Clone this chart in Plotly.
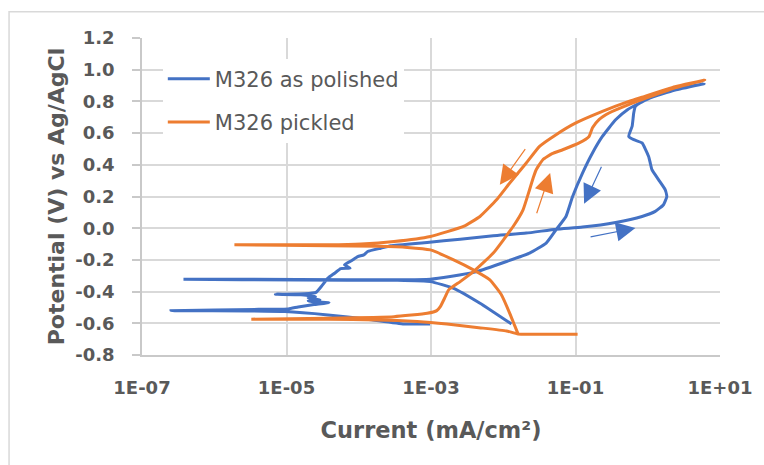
import plotly.graph_objects as go

# Cyclic polarization curves, M326 alloy
# log10 of current density (mA/cm^2) and potential (V vs Ag/AgCl), in scan order
polished_log_i = [
    -3.012, -3.373, -3.877, -4.426, -5.021, -5.524, -6.599, -5.387, -4.975, -4.838,
    -4.620, -4.412, -4.600, -4.700, -4.536, -4.700, -4.600, -4.800, -5.154, -4.750,
    -4.591, -4.518, -4.426, -4.334, -4.250, -4.120, -4.197, -4.100, -4.014, -3.930,
    -3.877, -3.695, -3.557, -3.053, -2.596, -2.138, -1.681, -1.269, -0.903, -0.445,
    -0.079, 0.104, 0.218, 0.264, 0.241, 0.149, 0.058, 0.035, 0.012, -0.079,
    -0.194, -0.263, -0.216, -0.194, -0.171, 0.012, 0.378, 0.780,
    0.378, 0.012, -0.281, -0.445, -0.628, -0.765, -0.903, -1.040, -1.132, -1.269,
    -1.406, -1.636, -1.955, -2.367, -2.734, -3.008, -3.465, -4.838, -6.426, -4.838,
    -3.465, -3.008, -2.687, -2.322, -1.887,
]
polished_v = [
    -0.604, -0.604, -0.574, -0.547, -0.526, -0.522, -0.520, -0.512, -0.509, -0.497,
    -0.482, -0.470, -0.466, -0.458, -0.452, -0.440, -0.432, -0.420, -0.417, -0.414,
    -0.405, -0.368, -0.315, -0.284, -0.255, -0.252, -0.231, -0.205, -0.179, -0.168,
    -0.147, -0.126, -0.111, -0.090, -0.069, -0.048, -0.031, -0.006, 0.007, 0.036,
    0.074, 0.106, 0.148, 0.200, 0.243, 0.306, 0.369, 0.411, 0.453, 0.538,
    0.559, 0.579, 0.643, 0.727, 0.769, 0.822, 0.875, 0.912,
    0.872, 0.818, 0.748, 0.684, 0.579, 0.475, 0.348, 0.200, 0.074, -0.010,
    -0.094, -0.157, -0.210, -0.274, -0.305, -0.322, -0.326, -0.323, -0.322, -0.327,
    -0.329, -0.337, -0.379, -0.473, -0.604,
]

pickled_log_i = [
    -0.971, -1.795, -1.955, -2.367, -2.779, -3.191, -3.740, -4.426, -5.487, -4.426,
    -3.511, -3.053, -2.920, -2.871, -2.802, -2.756, -2.596, -2.413, -2.138, -1.863,
    -1.726, -1.636, -1.585, -1.544, -1.452, -1.324, -1.177, -0.949, -0.812, -0.765,
    -0.675, -0.537, -0.263, -0.079, 0.378, 0.790,
    0.378, -0.079, -0.263, -0.628, -0.995, -1.269, -1.498, -1.681, -1.910, -2.093,
    -2.322, -2.550, -3.008, -3.511, -3.969, -4.426, -5.721, -4.426, -3.740, -3.328,
    -3.008, -2.687, -2.413, -2.185, -2.024, -1.910, -1.846, -1.795,
]
pickled_v = [
    -0.669, -0.667, -0.648, -0.626, -0.604, -0.588, -0.579, -0.574, -0.574, -0.568,
    -0.558, -0.537, -0.520, -0.495, -0.432, -0.389, -0.337, -0.274, -0.157, 0.011,
    0.116, 0.243, 0.318, 0.369, 0.432, 0.470, 0.495, 0.538, 0.579, 0.633,
    0.685, 0.727, 0.780, 0.811, 0.885, 0.935,
    0.893, 0.827, 0.800, 0.737, 0.664, 0.590, 0.516, 0.411, 0.285, 0.179,
    0.074, 0.011, -0.052, -0.084, -0.100, -0.105, -0.105, -0.111, -0.114, -0.121,
    -0.137, -0.200, -0.263, -0.326, -0.421, -0.537, -0.610, -0.667,
]

series_names = ["M326 as polished", "M326 pickled"]
series_colors = ["#4472C4", "#ED7D31"]

x_tick_exponents = [-7, -5, -3, -1, 1]
x_tick_labels = ["1E-07", "1E-05", "1E-03", "1E-01", "1E+01"]
y_tick_values = [-0.8, -0.6, -0.4, -0.2, 0.0, 0.2, 0.4, 0.6, 0.8, 1.0, 1.2]
y_tick_labels = ["-0.8", "-0.6", "-0.4", "-0.2", "0.0", "0.2", "0.4", "0.6", "0.8", "1.0", "1.2"]

# Scan-direction arrows: (tail log10 i, tail V, head log10 i, head V, series index)
scan_arrows = [
    (-1.681, 0.508, -2.047, 0.274, 1),
    (-1.544, 0.085, -1.351, 0.348, 1),
    (-0.631, 0.397, -0.881, 0.154, 0),
    (-0.812, -0.056, -0.171, 0.001, 0),
]

GRAY_TEXT = "#595959"
GRID = "#d9d9d9"

fig = go.Figure()
for name, color, logs, volts in [
    (series_names[0], series_colors[0], polished_log_i, polished_v),
    (series_names[1], series_colors[1], pickled_log_i, pickled_v),
]:
    fig.add_trace(go.Scatter(
        x=[10 ** v for v in logs], y=volts, mode="lines", name=name,
        legendgroup=name,
        line=dict(color=color, width=3, shape="spline", smoothing=0.4),
    ))

for tx, ty, hx, hy, idx in scan_arrows:
    fig.add_annotation(
        x=hx, y=hy, ax=tx, ay=ty, xref="x", yref="y", axref="x", ayref="y",
        showarrow=True, arrowhead=2, arrowsize=3.2, arrowwidth=1.2,
        arrowcolor=series_colors[idx], standoff=0, text="",
    )

fig.add_shape(
    type="rect", xref="paper", yref="paper",
    x0=-0.230, x1=1.2, y0=-0.5, y1=1.083,
    line=dict(color=GRID, width=1.5), layer="below",
)

fig.update_layout(
    width=764, height=465,
    margin=dict(l=142, r=38, t=38, b=110),
    paper_bgcolor="white", plot_bgcolor="white",
    showlegend=True,
    legend=dict(
        x=0.036, y=0.935, xanchor="left", yanchor="top",
        bgcolor="white", borderwidth=0,
        font=dict(family="DejaVu Sans", size=21, color=GRAY_TEXT),
        traceorder="grouped", tracegroupgap=13, itemwidth=42,
    ),
    xaxis=dict(
        type="log", range=[-7, 1],
        tickvals=[10 ** e for e in x_tick_exponents], ticktext=x_tick_labels,
        showgrid=True, gridcolor=GRID, gridwidth=1.5,
        showline=True, linecolor="#c9c9c9", linewidth=1.5,
        ticks="", ticklabelstandoff=16,
        tickfont=dict(family="DejaVu Sans", size=18, color=GRAY_TEXT, weight="bold"),
        title=dict(text="Current (mA/cm²)", standoff=25,
                   font=dict(family="DejaVu Sans", size=22.5, color=GRAY_TEXT, weight="bold")),
    ),
    yaxis=dict(
        range=[-0.8, 1.2],
        tickvals=y_tick_values, ticktext=y_tick_labels,
        showgrid=True, gridcolor=GRID, gridwidth=1.5, zeroline=False,
        showline=True, linecolor="#c9c9c9", linewidth=1.5,
        ticks="outside", ticklen=8, tickcolor="#c9c9c9", tickwidth=1.5,
        ticklabelstandoff=14,
        tickfont=dict(family="DejaVu Sans", size=18, color=GRAY_TEXT, weight="bold"),
        title=dict(text="Potential (V) vs Ag/AgCl", standoff=5,
                   font=dict(family="DejaVu Sans", size=22, color=GRAY_TEXT, weight="bold")),
    ),
)

fig.write_html("out.html")
